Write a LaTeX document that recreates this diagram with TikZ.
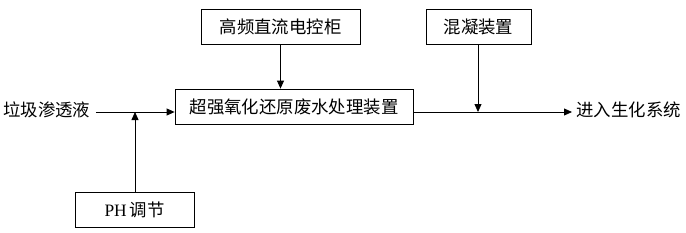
\documentclass[tikz,border=0pt]{standalone}
\usepackage{fontspec}
\setmainfont{Liberation Serif}
\newfontfamily\cjk{Noto Sans CJK SC}
\usetikzlibrary{positioning,arrows.meta}

\begin{document}
\begin{tikzpicture}[
  x=1pt, y=-1pt, >={Triangle[length=8pt,width=7pt]}, line width=0.8pt,
  box/.style={draw, minimum height=35pt, inner sep=0pt, font=\cjk\fontsize{17.4}{18}\selectfont},
  lbl/.style={inner sep=0pt, font=\cjk\fontsize{17.4}{18}\selectfont},
]
  \useasboundingbox (0,0) rectangle (686,233);
  \node[box, minimum width=238pt] (reactor) at (294,106.5) {超强氧化还原废水处理装置};
  \node[box, minimum width=159pt] (power) at (280.5,26.5) {高频直流电控柜};
  \node[box, minimum width=105pt] (coag) at (478.5,26.5) {混凝装置};
  \node[box, minimum width=119pt] (ph) at (134.5,209.5) {\rmfamily PH\,\cjk 调节};
  \node[lbl, anchor=west] (leach) at (3,110) {垃圾渗透液};
  \node[lbl, anchor=west] (bio) at (576,110) {进入生化系统};
  \coordinate (mixin) at (135,112);
  \coordinate (mixout) at (478,112);
  % main flow line
  \draw[->] ([xshift=5pt]leach.east |- mixin) -- (reactor.west |- mixin);
  \draw[->] (reactor.east |- mixout) -- ([xshift=-4pt]bio.west |- mixout);
  \draw[->] (ph.north -| mixin) -- (mixin);
  \draw[->] (power.south) -- (reactor.north -| power.south);
  \draw[->] (coag.south -| mixout) -- (mixout);
\end{tikzpicture}
\end{document}
